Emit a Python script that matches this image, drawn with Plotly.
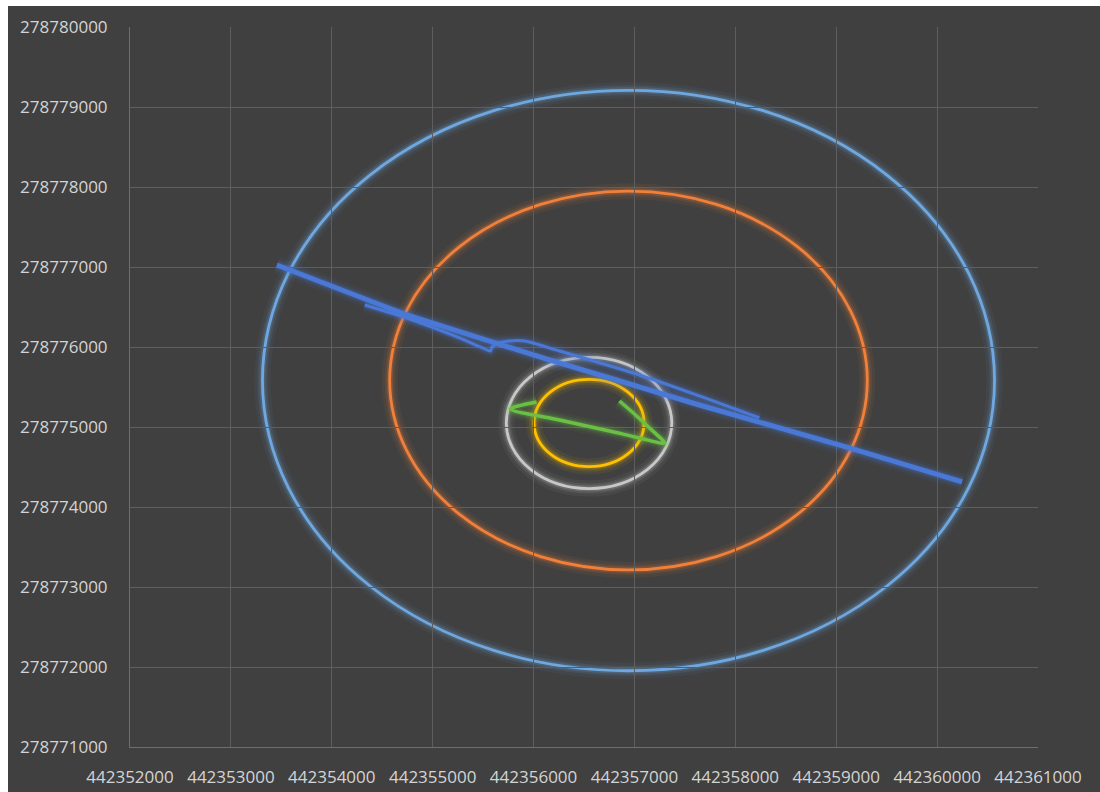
import plotly.graph_objects as go

# ---- data ----
# circles: centre x, centre y, radius (data units)
circle_names = ["Outer", "Middle", "Inner", "Core"]
circle_cx = [442356941, 442356941, 442356550, 442356550]
circle_cy = [278775581, 278775581, 278775050, 278775050]
circle_r = [3628, 2367, 820, 545]
circle_colors = ["#6fa8e0", "#f0803a", "#c8c8c8", "#ffc000"]

# main blue track
track_x = [442353455, 442354743, 442356158, 442357644, 442359129, 442360248]
track_y = [278777025, 278776400, 278775838, 278775275, 278774738, 278774313]

# thin blue path with hairpin
path_x = [442354327, 442354772, 442355218, 442355495, 442355574, 442355584, 442355634,
          442355762, 442355911, 442356257, 442357050, 442357644, 442358238]
path_y = [278776525, 278776350, 278776138, 278775988, 278775950, 278775990, 278776040,
          278776075, 278776075, 278775950, 278775650, 278775388, 278775113]

# green path
green_x = [442356030, 442355772, 442356257, 442356752, 442357050, 442357297,
           442357149, 442357000, 442356851]
green_y = [278775313, 278775225, 278775088, 278774950, 278774863, 278774800,
           278774988, 278775163, 278775325]

x_ticks = list(range(442352000, 442361001, 1000))
y_ticks = list(range(278771000, 278780001, 1000))

BG = "#404040"

fig = go.Figure()

# circles as shapes through the data axes, with a soft glow
shapes = []
for cx, cy, r, col in zip(circle_cx, circle_cy, circle_r, circle_colors):
    for w, op in [(16, 0.06), (10, 0.11), (6, 0.2)]:
        shapes.append(dict(type="circle", xref="x", yref="y",
                           x0=cx - r, x1=cx + r, y0=cy - r, y1=cy + r,
                           line=dict(color=col, width=w), opacity=op, layer="below"))
    shapes.append(dict(type="circle", xref="x", yref="y",
                       x0=cx - r, x1=cx + r, y0=cy - r, y1=cy + r,
                       line=dict(color=col, width=2.8), layer="below"))


def add_glow_line(xs, ys, col, width, spline=False):
    shape = "spline" if spline else "linear"
    for w, op in [(width + 12, 0.06), (width + 7, 0.11), (width + 3, 0.2)]:
        fig.add_trace(go.Scatter(x=xs, y=ys, mode="lines",
                                 line=dict(color=col, width=w, shape=shape, smoothing=0.8),
                                 opacity=op, showlegend=False, hoverinfo="skip"))
    fig.add_trace(go.Scatter(x=xs, y=ys, mode="lines",
                             line=dict(color=col, width=width, shape=shape, smoothing=0.8),
                             showlegend=False))


add_glow_line(green_x, green_y, "#6cbf45", 3.5, spline=True)
add_glow_line(path_x, path_y, "#4a78d6", 3, spline=True)
add_glow_line(track_x, track_y, "#4a78d6", 5)

# white strips of the screenshot border (paper coordinates)
L, R, T, B = 130, 62, 27, 45
pw = 1100 - L - R
ph = 792 - T - B
shapes.append(dict(type="rect", xref="paper", yref="paper",
                   x0=(0 - L) / pw, x1=(8 - L) / pw, y0=-B / ph, y1=1 + T / ph,
                   fillcolor="white", line=dict(width=0), layer="above"))
shapes.append(dict(type="rect", xref="paper", yref="paper",
                   x0=(0 - L) / pw, x1=(1100 - L) / pw, y0=1 + (T - 6) / ph, y1=1 + T / ph,
                   fillcolor="white", line=dict(width=0), layer="above"))

font = dict(family="Open Sans, Liberation Sans, sans-serif", size=17, color="#d4d4d4")

fig.update_layout(
    width=1100, height=792,
    margin=dict(l=L, r=R, t=T, b=B, autoexpand=False),
    paper_bgcolor=BG, plot_bgcolor=BG,
    showlegend=False,
    shapes=shapes,
    font=font,
    xaxis=dict(range=[x_ticks[0], x_ticks[-1]], tickvals=x_ticks,
               ticktext=[str(v) for v in x_ticks], automargin=False,
               showgrid=True, gridcolor="#5e5e5e", gridwidth=1,
               showline=True, linecolor="#6e6e6e", linewidth=1,
               zeroline=False, ticks="", ticklabelstandoff=15,
               tickfont=font),
    yaxis=dict(range=[y_ticks[0], y_ticks[-1]], tickvals=y_ticks,
               ticktext=[str(v) for v in y_ticks], automargin=False,
               showgrid=True, gridcolor="#5e5e5e", gridwidth=1,
               showline=True, linecolor="#6e6e6e", linewidth=1,
               zeroline=False, ticks="", ticklabelstandoff=18,
               tickfont=font),
)

fig.write_html("out.html")
